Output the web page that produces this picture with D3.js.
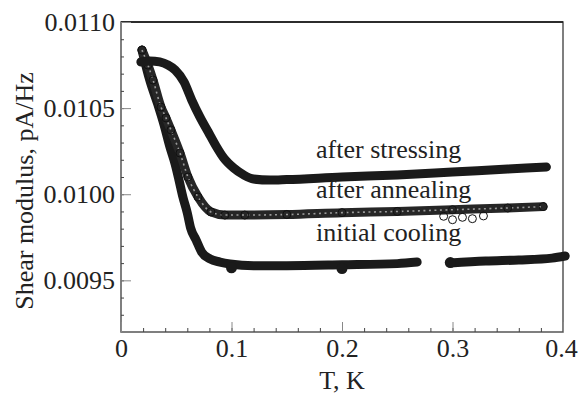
<!DOCTYPE html>
<html>
  <head>
    <meta charset="utf-8">
    <title>Shear modulus vs T</title>
    <script src="https://d3js.org/d3.v7.min.js" charset="utf-8"></script>
    <style media="screen">
      html, body {
        margin: 0;
        padding: 0;
        background: #fff;
      }
      svg {
        display: block;
        font-family: "Liberation Serif", "Times New Roman", serif;
      }
      .axis text {
        font-family: "Liberation Serif", "Times New Roman", serif;
        font-size: 26px;
        fill: #222;
      }
    </style>
  </head>
  <body>
    <div id="box"></div>
    <script type="text/javascript">
      // data: T (K) and shear modulus (pA/Hz)
      var stressT = [0.018, 0.026, 0.035, 0.0425, 0.049, 0.057, 0.064, 0.0715, 0.079, 0.086, 0.093, 0.102, 0.111, 0.120, 0.135, 0.15, 0.20, 0.25, 0.30, 0.35, 0.385];
      var stressG = [0.010768, 0.010774, 0.010768, 0.010750, 0.010721, 0.010652, 0.010547, 0.010448, 0.010361, 0.010280, 0.010210, 0.010152, 0.010112, 0.010088, 0.010082, 0.010085, 0.010100, 0.010112, 0.010129, 0.010146, 0.010158];

      var annealT = [0.019, 0.0244, 0.029, 0.0362, 0.0407, 0.0452, 0.0534, 0.0606, 0.0697, 0.0814, 0.094, 0.112, 0.15, 0.20, 0.25, 0.30, 0.35, 0.382];
      var annealG = [0.010837, 0.010750, 0.010663, 0.010506, 0.010443, 0.010373, 0.010239, 0.010100, 0.009984, 0.009897, 0.009879, 0.009879, 0.009882, 0.009893, 0.009900, 0.009910, 0.009920, 0.009928];
      var strayT = [0.292, 0.300, 0.309, 0.318, 0.328];
      var strayG = [0.009872, 0.009852, 0.009866, 0.009858, 0.009874];

      var coolT = [0.019, 0.026, 0.0335, 0.039, 0.0443, 0.049, 0.0525, 0.056, 0.060, 0.063, 0.068, 0.073, 0.0805, 0.0896, 0.0986, 0.12, 0.15, 0.20, 0.25, 0.268];
      var coolG = [0.010837, 0.010663, 0.010518, 0.010402, 0.010274, 0.010175, 0.010082, 0.009984, 0.009891, 0.009804, 0.009734, 0.009664, 0.009624, 0.009606, 0.009595, 0.009585, 0.009585, 0.009590, 0.009597, 0.009606];
      var cool2T = [0.298, 0.33, 0.36, 0.39, 0.402];
      var cool2G = [0.009600, 0.009612, 0.009618, 0.009629, 0.009641];
      var bigDotT = [0.10, 0.20, 0.298];
      var bigDotG = [0.009573, 0.009568, 0.009603];

      var xTicks = [0, 0.1, 0.2, 0.3, 0.4];
      var yTicks = [0.0095, 0.0100, 0.0105, 0.0110];
      var labels = ["after stressing", "after annealing", "initial cooling"];
      var labelG = [0.010210, 0.009978, 0.009728];

      var width = 578, height = 394;
      var padL = 121, padR = 563, padT = 22, padB = 332;

      var x = d3.scaleLinear().domain([0, 0.4]).range([padL, padR]);
      var y = d3.scaleLinear().domain([0.0092, 0.0110]).range([padB, padT]);

      var svg = d3.select("#box").append("svg")
        .attr("width", width)
        .attr("height", height);

      function pts(ts, gs) { return ts.map(function(t, i) { return [t, gs[i]]; }); }
      var line = d3.line()
        .x(function(d) { return x(d[0]); })
        .y(function(d) { return y(d[1]); })
        .curve(d3.curveMonotoneX);

      // frame
      svg.append("rect")
        .attr("x", padL).attr("y", padT)
        .attr("width", padR - padL).attr("height", padB - padT)
        .attr("fill", "none").attr("stroke", "#555").attr("stroke-width", 1.5);
      svg.append("line")
        .attr("x1", padL).attr("x2", padR).attr("y1", padT).attr("y2", padT)
        .attr("stroke", "#111").attr("stroke-width", 1.5);

      // minor ticks
      svg.append("g").attr("transform", "translate(" + padL + ",0)")
        .call(d3.axisLeft(y).tickValues(d3.range(93, 110).map(function(k) { return k / 10000; }))
          .tickSize(-3).tickFormat(""))
        .call(function(g) { g.select(".domain").remove(); g.selectAll("line").attr("stroke", "#444"); });
      svg.append("g").attr("transform", "translate(0," + padB + ")")
        .call(d3.axisBottom(x).tickValues(d3.range(1, 20).map(function(k) { return k / 50; }))
          .tickSize(-4).tickFormat(""))
        .call(function(g) { g.select(".domain").remove(); g.selectAll("line").attr("stroke", "#444"); });

      // major ticks + labels
      svg.append("g").attr("class", "axis").attr("transform", "translate(" + padL + ",0)")
        .call(d3.axisLeft(y).tickValues(yTicks).tickSize(-10).tickPadding(6)
          .tickFormat(d3.format(".4f")))
        .call(function(g) { g.select(".domain").remove(); g.selectAll("line").attr("stroke", "#888"); });
      svg.append("g").attr("class", "axis").attr("transform", "translate(0," + padB + ")")
        .call(d3.axisBottom(x).tickValues(xTicks).tickSize(-10).tickPadding(7)
          .tickFormat(function(d) { return d === 0 ? "0" : d.toFixed(1); }))
        .call(function(g) {
          g.select(".domain").remove();
          g.selectAll("line").attr("stroke", "#888");
          g.selectAll("text").filter(function(d) { return d === 0.4; }).attr("dx", -2);
        });

      // axis titles
      svg.append("text")
        .attr("transform", "translate(33," + ((padT + padB) / 2 + 14) + ") rotate(-90)")
        .attr("text-anchor", "middle")
        .attr("font-size", 26).attr("fill", "#222")
        .text("Shear modulus, pA/Hz");
      svg.append("text")
        .attr("x", (padL + padR) / 2).attr("y", 389)
        .attr("text-anchor", "middle")
        .attr("font-size", 26).attr("fill", "#222")
        .text("T, K");

      // initial cooling (filled circles)
      [pts(coolT, coolG), pts(cool2T, cool2G)].forEach(function(seg) {
        svg.append("path").datum(seg)
          .attr("d", line)
          .attr("fill", "none").attr("stroke", "#1a1a1a")
          .attr("stroke-width", 9).attr("stroke-linecap", "round").attr("stroke-linejoin", "round");
      });
      svg.selectAll(".bigdot").data(pts(bigDotT, bigDotG)).enter()
        .append("circle").attr("class", "bigdot")
        .attr("cx", function(d) { return x(d[0]); })
        .attr("cy", function(d) { return y(d[1]); })
        .attr("r", 5.5).attr("fill", "#1a1a1a");

      // after annealing (open circles, drawn as a speckled band)
      var anneal = pts(annealT, annealG);
      svg.append("path").datum(anneal)
        .attr("d", line)
        .attr("fill", "none").attr("stroke", "#262626")
        .attr("stroke-width", 9).attr("stroke-linecap", "round").attr("stroke-linejoin", "round");
      svg.append("path").datum(anneal)
        .attr("d", line)
        .attr("fill", "none").attr("stroke", "#9a9a9a")
        .attr("stroke-width", 1.6).attr("stroke-dasharray", "2 3.5");
      svg.selectAll(".ring").data(anneal.concat(pts(strayT, strayG))).enter()
        .append("circle").attr("class", "ring")
        .attr("cx", function(d) { return x(d[0]); })
        .attr("cy", function(d) { return y(d[1]); })
        .attr("r", 4).attr("fill", "none")
        .attr("stroke", "#111").attr("stroke-width", 1);

      // after stressing (solid)
      svg.append("path").datum(pts(stressT, stressG))
        .attr("d", line)
        .attr("fill", "none").attr("stroke", "#1a1a1a")
        .attr("stroke-width", 9).attr("stroke-linecap", "round").attr("stroke-linejoin", "round");

      // curve labels
      svg.selectAll(".lbl").data(labels).enter()
        .append("text").attr("class", "lbl")
        .attr("x", x(0.1765))
        .attr("y", function(d, i) { return y(labelG[i]); })
        .attr("font-size", 26).attr("fill", "#222")
        .text(function(d) { return d; });
    </script>
  </body>
</html>
